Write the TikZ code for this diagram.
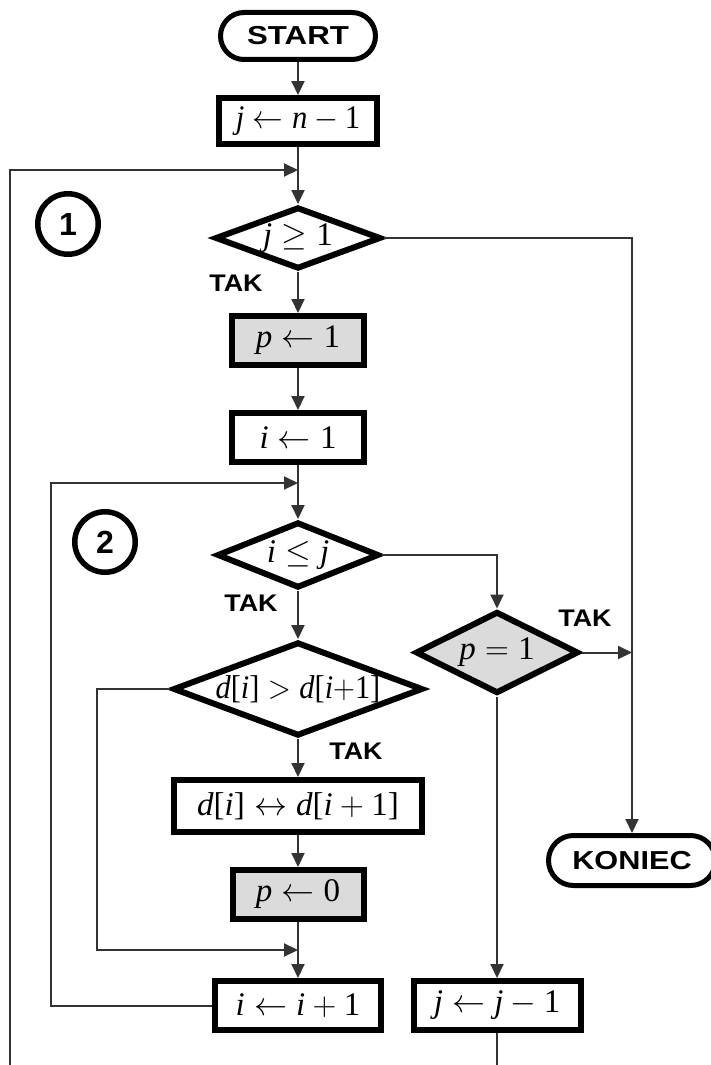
\RequirePackage{fix-cm}
\documentclass[tikz,border=0pt]{standalone}
\usepackage{fontspec}
\setmainfont{Liberation Serif}
\newfontfamily\lblfont{Liberation Sans}
\usetikzlibrary{shapes.geometric,shapes.misc,arrows.meta,calc}

% formulas: math spacing, Times-like letters and digits
\newcommand\formula[1]{{\fontsize{33}{35}\selectfont $#1$}}
\newcommand\V[1]{\mbox{\itshape #1}}
\newcommand\N[1]{\mbox{#1}}
\newcommand\ob{\mbox{[}}
\newcommand\cb{\mbox{]}}
\newcommand\widesans[2]{\scalebox{#1}[1]{#2}}

\tikzset{
  every node/.style={inner sep=0pt},
  procbox/.style={draw=black, line width=6pt, rectangle, fill=white},
  shaded/.style={fill=gray!28},
  decision/.style={draw=black, line width=6pt, diamond, fill=white},
  terminal/.style={draw=black, line width=5pt, rounded rectangle, fill=white,
    font=\lblfont\bfseries\fontsize{26}{28}\selectfont},
  conn/.style={draw=black!80, line width=2pt},
  arr/.style={conn, -{Triangle[length=14pt,width=13pt]}},
  yes/.style={font=\lblfont\bfseries\fontsize{24}{26}\selectfont},
  marker/.style={draw=black, circle, line width=5.5pt, minimum size=60.5pt,
    font=\lblfont\bfseries\fontsize{32}{34}\selectfont}
}

\begin{document}
\begin{tikzpicture}[x=1pt, y=-1pt]
\useasboundingbox (0,0) rectangle (711,1065);
\clip (0,0) rectangle (711,1065);

% terminals
\node[terminal, minimum width=155pt, minimum height=47pt] (start) at (298,36) {\widesans{1.2}{START}};
\node[terminal, minimum width=167pt, minimum height=50pt] (koniec) at (632,860.5) {\widesans{1.18}{KONIEC}};

% outer loop
\node[procbox, minimum width=158pt, minimum height=46pt] (b1) at (298,121)
  {\scalebox{0.93}[1]{\formula{\V{j} \leftarrow \V{n} - \N{1}}}};
\node[decision, minimum width=166pt, minimum height=62pt,
  label={center:\formula{\V{j} \geq \N{1}}}] (d1) at (298,238) {};
\node[procbox, shaded, minimum width=132pt, minimum height=49pt] (p1) at (298,340.5)
  {\formula{\V{p} \leftarrow \N{1}}};
\node[procbox, minimum width=132pt, minimum height=49pt] (i1) at (298,437.5)
  {\formula{\V{i} \leftarrow \N{1}}};

% inner loop
\node[decision, minimum width=162pt, minimum height=66pt,
  label={center:\formula{\V{i} \leq \V{j}}}] (d2) at (298,555) {};
\node[decision, minimum width=250pt, minimum height=94pt,
  label={center:\scalebox{0.92}[1]{\formula{\V{d}\ob\V{i}\cb > \V{d}\ob\V{i}{+}\N{1}\cb}}}] (d3) at (298,689) {};
\node[procbox, minimum width=248pt, minimum height=52pt] (swap) at (298,806)
  {\formula{\V{d}\ob\V{i}\cb \leftrightarrow \V{d}\ob\V{i} + \N{1}\cb}};
\node[procbox, shaded, minimum width=131pt, minimum height=49pt] (p0) at (298,894.5)
  {\formula{\V{p} \leftarrow \N{0}}};
\node[procbox, minimum width=166pt, minimum height=49pt] (inc) at (298,1005.5)
  {\formula{\V{i} \leftarrow \V{i} + \N{1}}};

% right column
\node[decision, shaded, minimum width=163pt, minimum height=82pt,
  label={center:\formula{\V{p} = \N{1}}}] (pd) at (497,652.5) {};
\node[procbox, minimum width=167pt, minimum height=49pt] (dec) at (497,1005.5)
  {\formula{\V{j} \leftarrow \V{j} - \N{1}}};

% loop markers
\node[marker] (m1) at (68,224) {1};
\node[marker] (m2) at (105,542) {2};

% branch labels
\node[yes] (t1) at (236,283) {\widesans{1.12}{TAK}};
\node[yes] (t2) at (251,603) {\widesans{1.12}{TAK}};
\node[yes] (t3) at (585,618) {\widesans{1.12}{TAK}};
\node[yes] (t4) at (356,751) {\widesans{1.12}{TAK}};

% junction points
\coordinate (j1) at (298,170);
\coordinate (j2) at (298,483);
\coordinate (j3) at (298,950);
\coordinate (outer) at (10,1100);
\coordinate (loop2) at (51,483);
\coordinate (loop3) at (97,950);

% connectors
\draw[arr] (start) -- (b1);
\draw[arr] (b1) -- (d1);
\draw[arr] (dec.south) |- (outer) |- (j1);
\draw[arr] (d1.east) -| (koniec.north);
\draw[arr] (d1) -- (p1);
\draw[arr] (p1) -- (i1);
\draw[arr] (i1) -- (d2);
\draw[arr] (inc.west) -| (loop2) -- (j2);
\draw[arr] (d2.east) -| (pd.north);
\draw[arr] (d2) -- (d3);
\draw[arr] (d3) -- (swap);
\draw[arr] (swap) -- (p0);
\draw[arr] (p0) -- (inc);
\draw[arr] (d3.west) -| (loop3) -- (j3);
\draw[arr] (pd.east) -- (pd.east -| koniec.north);
\draw[arr] (pd) -- (dec);
\end{tikzpicture}
\end{document}
